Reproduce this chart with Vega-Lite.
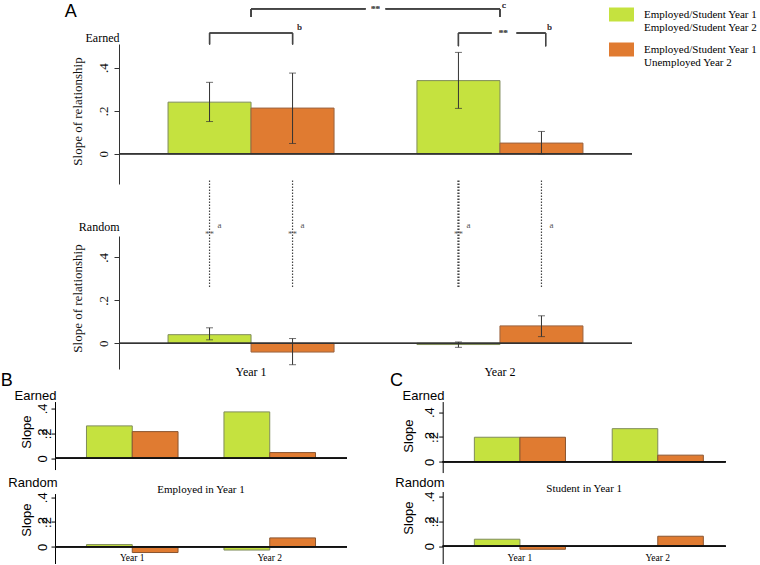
{
  "$schema": "https://vega.github.io/schema/vega-lite/v6.json",
  "padding": {"left": 0, "top": 1, "right": 0, "bottom": 0},
  "autosize": {"type": "pad"},
  "background": "white",
  "config": {
    "view": {"stroke": null},
    "axis": {"grid": false, "labelOverlap": false, "labelFlush": false, "labelBound": false},
    "font": "Liberation Serif"
  },
  "datasets": {
    "aEarned": [
      {"group": "Year 1", "series": "Employed/Student Year 1\nEmployed/Student Year 2", "value": 0.24, "lo": 0.15, "hi": 0.332},
      {"group": "Year 1", "series": "Employed/Student Year 1\nUnemployed Year 2", "value": 0.2125, "lo": 0.048, "hi": 0.375},
      {"group": "Year 2", "series": "Employed/Student Year 1\nEmployed/Student Year 2", "value": 0.34, "lo": 0.211, "hi": 0.471},
      {"group": "Year 2", "series": "Employed/Student Year 1\nUnemployed Year 2", "value": 0.05, "lo": 0.0, "hi": 0.104}
    ],
    "aRandom": [
      {"group": "Year 1", "series": "Employed/Student Year 1\nEmployed/Student Year 2", "value": 0.04, "lo": 0.016, "hi": 0.072},
      {"group": "Year 1", "series": "Employed/Student Year 1\nUnemployed Year 2", "value": -0.041, "lo": -0.1, "hi": 0.022},
      {"group": "Year 2", "series": "Employed/Student Year 1\nEmployed/Student Year 2", "value": -0.006, "lo": -0.019, "hi": 0.006},
      {"group": "Year 2", "series": "Employed/Student Year 1\nUnemployed Year 2", "value": 0.081, "lo": 0.031, "hi": 0.128}
    ],
    "bEarned": [
      {"group": "Year 1", "series": "Employed/Student Year 1\nEmployed/Student Year 2", "value": 0.26},
      {"group": "Year 1", "series": "Employed/Student Year 1\nUnemployed Year 2", "value": 0.214},
      {"group": "Year 2", "series": "Employed/Student Year 1\nEmployed/Student Year 2", "value": 0.372},
      {"group": "Year 2", "series": "Employed/Student Year 1\nUnemployed Year 2", "value": 0.046}
    ],
    "bRandom": [
      {"group": "Year 1", "series": "Employed/Student Year 1\nEmployed/Student Year 2", "value": 0.018},
      {"group": "Year 1", "series": "Employed/Student Year 1\nUnemployed Year 2", "value": -0.046},
      {"group": "Year 2", "series": "Employed/Student Year 1\nEmployed/Student Year 2", "value": -0.026},
      {"group": "Year 2", "series": "Employed/Student Year 1\nUnemployed Year 2", "value": 0.072}
    ],
    "cEarned": [
      {"group": "Year 1", "series": "Employed/Student Year 1\nEmployed/Student Year 2", "value": 0.198},
      {"group": "Year 1", "series": "Employed/Student Year 1\nUnemployed Year 2", "value": 0.198},
      {"group": "Year 2", "series": "Employed/Student Year 1\nEmployed/Student Year 2", "value": 0.267},
      {"group": "Year 2", "series": "Employed/Student Year 1\nUnemployed Year 2", "value": 0.054}
    ],
    "cRandom": [
      {"group": "Year 1", "series": "Employed/Student Year 1\nEmployed/Student Year 2", "value": 0.056},
      {"group": "Year 1", "series": "Employed/Student Year 1\nUnemployed Year 2", "value": -0.025},
      {"group": "Year 2", "series": "Employed/Student Year 1\nEmployed/Student Year 2", "value": 0.0},
      {"group": "Year 2", "series": "Employed/Student Year 1\nUnemployed Year 2", "value": 0.08}
    ]
  },
  "spacing": -12.45,
  "resolve": {"scale": {"color": "independent", "stroke": "independent", "xOffset": "independent"}},
  "vconcat": [
    {
      "hconcat": [
        {
          "width": 63.7, "height": 340,
          "data": {"values": []},
          "mark": "point",
          "encoding": {},
          "title": {"text": "A", "font": "Liberation Sans", "fontSize": 18, "fontWeight": "normal", "anchor": "start", "frame": "group", "dx": 9.7, "baseline": "alphabetic", "offset": 9, "color": "#000"}
        },
        {
          "vconcat": [
            {
              "width": 513, "height": 140,
              "data": {"name": "aEarned"},
              "layer": [
                {
                  "mark": {"type": "bar", "strokeWidth": 1},
                  "encoding": {
                    "x": {"field": "group", "type": "nominal", "scale": {"domain": ["Year 1", "Year 2"], "paddingInner": 0.333, "paddingOuter": 0.197},
                      "axis": {"orient": "top", "labels": false, "ticks": false, "domain": false, "title": "Earned", "titleX": 0, "titleY": -3, "titleAlign": "right", "titleAngle": 0, "titleBaseline": "alphabetic", "titleFont": "Liberation Serif", "titleFontSize": 12, "titleFontWeight": "normal", "titleColor": "#000"}},
                    "xOffset": {"field": "series", "type": "nominal", "scale": {"domain": ["Employed/Student Year 1\nEmployed/Student Year 2", "Employed/Student Year 1\nUnemployed Year 2"], "paddingInner": 0, "paddingOuter": 0}},
                    "y": {"field": "value", "type": "quantitative", "scale": {"domain": [-0.14, 0.51], "nice": false, "zero": false},
                      "axis": {"values": [0, 0.2, 0.4], "labelOverlap": false, "labelExpr": "datum.value == 0 ? '0' : slice(format(datum.value, '.1f'), 1)", "labelAngle": -90, "labelAlign": "center", "labelBaseline": "alphabetic", "labelPadding": 7, "tickSize": 5, "labelFont": "Liberation Serif", "labelFontSize": 13, "labelColor": "#111", "domainColor": "#333", "tickColor": "#333", "title": "Slope of relationship", "titleFont": "Liberation Serif", "titleFontSize": 13, "titleFontWeight": "normal", "titleColor": "#111", "titleAngle": -90, "titleAlign": "center", "titleBaseline": "alphabetic", "titleX": -38, "titleY": 67}},
                    "color": {"field": "series", "type": "nominal", "scale": {"domain": ["Employed/Student Year 1\nEmployed/Student Year 2", "Employed/Student Year 1\nUnemployed Year 2"], "range": ["#c5e23f", "#e07b31"]},
                      "legend": {"orient": "none", "legendX": 490, "legendY": -42, "title": null, "symbolType": "M-1,-0.56H1V0.56H-1Z", "symbolSize": 625, "symbolStrokeWidth": 0, "symbolOpacity": 1, "labelFont": "Liberation Serif", "labelFontSize": 11, "labelLineHeight": 12.7, "labelOffset": 10, "labelColor": "#000", "labelLimit": 300, "labelExpr": "split(datum.label, '\\n')", "rowPadding": 4, "padding": 0}},
                    "stroke": {"field": "series", "type": "nominal", "scale": {"domain": ["Employed/Student Year 1\nEmployed/Student Year 2", "Employed/Student Year 1\nUnemployed Year 2"], "range": ["#7f8c5a", "#9a6440"]}, "legend": null}
                  }
                },
                {
                  "mark": {"type": "rule", "color": "#333", "strokeWidth": 1},
                  "encoding": {"x": {"field": "group", "type": "nominal"}, "xOffset": {"field": "series", "type": "nominal"}, "y": {"field": "lo", "type": "quantitative"}, "y2": {"field": "hi"}}
                },
                {
                  "mark": {"type": "tick", "orient": "horizontal", "size": 7, "thickness": 1, "color": "#333"},
                  "encoding": {"x": {"field": "group", "type": "nominal"}, "xOffset": {"field": "series", "type": "nominal"}, "y": {"field": "hi", "type": "quantitative"}}
                },
                {
                  "mark": {"type": "tick", "orient": "horizontal", "size": 7, "thickness": 1, "color": "#333"},
                  "encoding": {"x": {"field": "group", "type": "nominal"}, "xOffset": {"field": "series", "type": "nominal"}, "y": {"field": "lo", "type": "quantitative"}}
                },
                {
                  "mark": {"type": "rule", "color": "#333", "strokeWidth": 1},
                  "encoding": {"y": {"datum": 0, "type": "quantitative"}}
                },
                {
                  "mark": {"type": "rule", "color": "#444", "strokeWidth": 1.2},
                  "encoding": {"x": {"datum": "Year 1", "type": "nominal", "bandPosition": 0.5}, "x2": {"datum": "Year 1", "bandPosition": 1.19}, "y": {"datum": 0.673, "type": "quantitative"}}
                },
                {
                  "mark": {"type": "rule", "color": "#444", "strokeWidth": 1.2},
                  "encoding": {"x": {"datum": "Year 1", "type": "nominal", "bandPosition": 1.31}, "x2": {"datum": "Year 2", "bandPosition": 0.5}, "y": {"datum": 0.673, "type": "quantitative"}}
                },
                {
                  "mark": {"type": "rule", "color": "#444", "strokeWidth": 1.2},
                  "encoding": {"x": {"datum": "Year 1", "type": "nominal", "bandPosition": 0.5}, "y": {"datum": 0.673, "type": "quantitative"}, "y2": {"datum": 0.635}}
                },
                {
                  "mark": {"type": "rule", "color": "#444", "strokeWidth": 1.2},
                  "encoding": {"x": {"datum": "Year 2", "type": "nominal", "bandPosition": 0.5}, "y": {"datum": 0.673, "type": "quantitative"}, "y2": {"datum": 0.635}}
                },
                {
                  "mark": {"type": "text", "text": "**", "font": "Liberation Serif", "fontSize": 9, "color": "#555", "baseline": "middle"},
                  "encoding": {"x": {"datum": "Year 1", "type": "nominal", "bandPosition": 1.25}, "y": {"datum": 0.673, "type": "quantitative"}}
                },
                {
                  "mark": {"type": "text", "text": "c", "font": "Liberation Serif", "fontSize": 9, "color": "#555", "baseline": "middle", "dx": 4},
                  "encoding": {"x": {"datum": "Year 2", "type": "nominal", "bandPosition": 0.5}, "y": {"datum": 0.69, "type": "quantitative"}}
                },
                {
                  "mark": {"type": "rule", "color": "#444", "strokeWidth": 1.2},
                  "encoding": {"x": {"datum": "Year 1", "type": "nominal", "bandPosition": 0.25}, "x2": {"datum": "Year 1", "bandPosition": 0.75}, "y": {"datum": 0.561, "type": "quantitative"}}
                },
                {
                  "mark": {"type": "rule", "color": "#444", "strokeWidth": 1.2},
                  "encoding": {"x": {"datum": "Year 1", "type": "nominal", "bandPosition": 0.25}, "y": {"datum": 0.561, "type": "quantitative"}, "y2": {"datum": 0.508}}
                },
                {
                  "mark": {"type": "rule", "color": "#444", "strokeWidth": 1.2},
                  "encoding": {"x": {"datum": "Year 1", "type": "nominal", "bandPosition": 0.75}, "y": {"datum": 0.561, "type": "quantitative"}, "y2": {"datum": 0.508}}
                },
                {
                  "mark": {"type": "text", "text": "b", "font": "Liberation Serif", "fontSize": 9, "color": "#555", "baseline": "middle", "dx": 7},
                  "encoding": {"x": {"datum": "Year 1", "type": "nominal", "bandPosition": 0.75}, "y": {"datum": 0.59, "type": "quantitative"}}
                },
                {
                  "mark": {"type": "rule", "color": "#444", "strokeWidth": 1.2},
                  "encoding": {"x": {"datum": "Year 2", "type": "nominal", "bandPosition": 0.25}, "x2": {"datum": "Year 2", "bandPosition": 0.45}, "y": {"datum": 0.561, "type": "quantitative"}}
                },
                {
                  "mark": {"type": "rule", "color": "#444", "strokeWidth": 1.2},
                  "encoding": {"x": {"datum": "Year 2", "type": "nominal", "bandPosition": 0.6}, "x2": {"datum": "Year 2", "bandPosition": 0.775}, "y": {"datum": 0.561, "type": "quantitative"}}
                },
                {
                  "mark": {"type": "rule", "color": "#444", "strokeWidth": 1.2},
                  "encoding": {"x": {"datum": "Year 2", "type": "nominal", "bandPosition": 0.25}, "y": {"datum": 0.561, "type": "quantitative"}, "y2": {"datum": 0.5}}
                },
                {
                  "mark": {"type": "rule", "color": "#444", "strokeWidth": 1.2},
                  "encoding": {"x": {"datum": "Year 2", "type": "nominal", "bandPosition": 0.775}, "y": {"datum": 0.561, "type": "quantitative"}, "y2": {"datum": 0.5}}
                },
                {
                  "mark": {"type": "text", "text": "**", "font": "Liberation Serif", "fontSize": 9, "color": "#555", "baseline": "middle"},
                  "encoding": {"x": {"datum": "Year 2", "type": "nominal", "bandPosition": 0.52}, "y": {"datum": 0.561, "type": "quantitative"}}
                },
                {
                  "mark": {"type": "text", "text": "b", "font": "Liberation Serif", "fontSize": 9, "color": "#555", "baseline": "middle", "dx": 4},
                  "encoding": {"x": {"datum": "Year 2", "type": "nominal", "bandPosition": 0.775}, "y": {"datum": 0.59, "type": "quantitative"}}
                }
              ]
            },
            {
              "width": 513, "height": 133,
              "data": {"name": "aRandom"},
              "layer": [
                {
                  "mark": {"type": "bar", "strokeWidth": 1},
                  "encoding": {
                    "x": {"field": "group", "type": "nominal", "scale": {"domain": ["Year 1", "Year 2"], "paddingInner": 0.333, "paddingOuter": 0.197},
                      "axis": {"orient": "bottom", "labels": true, "ticks": false, "domain": false, "labelAngle": 0, "labelFont": "Liberation Serif", "labelFontSize": 12, "labelColor": "#000", "labelPadding": 0, "labelBaseline": "top", "offset": -3, "title": "Random", "titleX": 0, "titleY": -136, "titleAlign": "right", "titleAngle": 0, "titleBaseline": "alphabetic", "titleFont": "Liberation Serif", "titleFontSize": 12, "titleFontWeight": "normal", "titleColor": "#000"}},
                    "xOffset": {"field": "series", "type": "nominal", "scale": {"domain": ["Employed/Student Year 1\nEmployed/Student Year 2", "Employed/Student Year 1\nUnemployed Year 2"], "paddingInner": 0, "paddingOuter": 0}},
                    "y": {"field": "value", "type": "quantitative", "scale": {"domain": [-0.12, 0.5], "nice": false, "zero": false},
                      "axis": {"values": [0, 0.2, 0.4], "labelOverlap": false, "labelExpr": "datum.value == 0 ? '0' : slice(format(datum.value, '.1f'), 1)", "labelAngle": -90, "labelAlign": "center", "labelBaseline": "alphabetic", "labelPadding": 7, "tickSize": 5, "labelFont": "Liberation Serif", "labelFontSize": 13, "labelColor": "#111", "domainColor": "#333", "tickColor": "#333", "title": "Slope of relationship", "titleFont": "Liberation Serif", "titleFontSize": 13, "titleFontWeight": "normal", "titleColor": "#111", "titleAngle": -90, "titleAlign": "center", "titleBaseline": "alphabetic", "titleX": -38, "titleY": 62}},
                    "color": {"field": "series", "type": "nominal", "scale": {"domain": ["Employed/Student Year 1\nEmployed/Student Year 2", "Employed/Student Year 1\nUnemployed Year 2"], "range": ["#c5e23f", "#e07b31"]}, "legend": null},
                    "stroke": {"field": "series", "type": "nominal", "scale": {"domain": ["Employed/Student Year 1\nEmployed/Student Year 2", "Employed/Student Year 1\nUnemployed Year 2"], "range": ["#7f8c5a", "#9a6440"]}, "legend": null}
                  }
                },
                {
                  "mark": {"type": "rule", "color": "#333", "strokeWidth": 1},
                  "encoding": {"x": {"field": "group", "type": "nominal"}, "xOffset": {"field": "series", "type": "nominal"}, "y": {"field": "lo", "type": "quantitative"}, "y2": {"field": "hi"}}
                },
                {
                  "mark": {"type": "tick", "orient": "horizontal", "size": 7, "thickness": 1, "color": "#333"},
                  "encoding": {"x": {"field": "group", "type": "nominal"}, "xOffset": {"field": "series", "type": "nominal"}, "y": {"field": "hi", "type": "quantitative"}}
                },
                {
                  "mark": {"type": "tick", "orient": "horizontal", "size": 7, "thickness": 1, "color": "#333"},
                  "encoding": {"x": {"field": "group", "type": "nominal"}, "xOffset": {"field": "series", "type": "nominal"}, "y": {"field": "lo", "type": "quantitative"}}
                },
                {
                  "mark": {"type": "rule", "color": "#333", "strokeWidth": 1},
                  "encoding": {"y": {"datum": 0, "type": "quantitative"}}
                },
                {
                  "mark": {"type": "rule", "color": "#444", "strokeDash": [1.5, 1.5]},
                  "encoding": {
                    "x": {"field": "group", "type": "nominal"}, "xOffset": {"field": "series", "type": "nominal"},
                    "y": {"datum": 0.262, "type": "quantitative"}, "y2": {"datum": 0.76},
                    "strokeWidth": {"condition": {"test": "datum.group == 'Year 2' && indexof(datum.series, 'Unemployed') < 0", "value": 2.2}, "value": 1.2}
                  }
                },
                {
                  "transform": [{"filter": "!(datum.group == 'Year 2' && indexof(datum.series, 'Unemployed') >= 0)"}],
                  "mark": {"type": "text", "text": "**", "font": "Liberation Serif", "fontSize": 9, "color": "#555", "baseline": "middle"},
                  "encoding": {"x": {"field": "group", "type": "nominal"}, "xOffset": {"field": "series", "type": "nominal"}, "y": {"datum": 0.51, "type": "quantitative"}}
                },
                {
                  "mark": {"type": "text", "text": "a", "font": "Liberation Serif", "fontSize": 9, "color": "#555", "baseline": "middle", "dx": 10},
                  "encoding": {"x": {"field": "group", "type": "nominal"}, "xOffset": {"field": "series", "type": "nominal"}, "y": {"datum": 0.55, "type": "quantitative"}}
                }
              ]
            }
          ],
          "spacing": 52,
          "bounds": "flush",
          "resolve": {"scale": {"color": "independent", "stroke": "independent", "xOffset": "independent"}}
        }
      ],
      "spacing": 0,
      "bounds": "flush",
      "resolve": {"scale": {"color": "independent", "stroke": "independent", "xOffset": "independent"}}
    },
    {
      "hconcat": [
        {
          "vconcat": [
            {
              "width": 292, "height": 68,
              "data": {"name": "bEarned"},
              "title": {"text": "B", "font": "Liberation Sans", "fontSize": 18, "fontWeight": "normal", "anchor": "start", "frame": "group", "dx": -54.3, "baseline": "alphabetic", "offset": -14.65, "color": "#000"},
              "resolve": {"axis": {"y": "independent"}},
              "layer": [
                {
                  "mark": {"type": "bar", "strokeWidth": 1},
                  "encoding": {
                    "x": {"field": "group", "type": "nominal", "scale": {"domain": ["Year 1", "Year 2"], "paddingInner": 0.334, "paddingOuter": 0.229},
                      "axis": {"orient": "top", "labels": false, "ticks": false, "domain": false, "title": "Earned", "titleX": 1, "titleY": -2.5, "titleAlign": "right", "titleAngle": 0, "titleBaseline": "alphabetic", "titleFont": "Liberation Sans", "titleFontSize": 13, "titleFontWeight": "normal", "titleColor": "#000"}},
                    "xOffset": {"field": "series", "type": "nominal", "scale": {"domain": ["Employed/Student Year 1\nEmployed/Student Year 2", "Employed/Student Year 1\nUnemployed Year 2"], "paddingInner": 0, "paddingOuter": 0}},
                    "y": {"field": "value", "type": "quantitative", "scale": {"domain": [-0.09, 0.455], "nice": false, "zero": false},
                      "axis": {"orient": "left", "values": [0, 0.2, 0.4], "labelOverlap": false, "labelExpr": "datum.value == 0 ? '0' : slice(format(datum.value, '.1f'), 1)", "labelAngle": -90, "labelAlign": "center", "labelBaseline": "alphabetic", "labelPadding": 5, "tickSize": 4, "labelFont": "Liberation Sans", "labelFontSize": 13, "labelColor": "#000", "domainColor": "#000", "tickColor": "#000", "title": "Slope", "titleFont": "Liberation Sans", "titleFontSize": 13, "titleFontWeight": "normal", "titleColor": "#000", "titleAngle": -90, "titleAlign": "center", "titleBaseline": "alphabetic", "titleX": -25, "titleY": 30}},
                    "color": {"field": "series", "type": "nominal", "scale": {"domain": ["Employed/Student Year 1\nEmployed/Student Year 2", "Employed/Student Year 1\nUnemployed Year 2"], "range": ["#c5e23f", "#e07b31"]}, "legend": null},
                    "stroke": {"field": "series", "type": "nominal", "scale": {"domain": ["Employed/Student Year 1\nEmployed/Student Year 2", "Employed/Student Year 1\nUnemployed Year 2"], "range": ["#7f8c5a", "#8a5530"]}, "legend": null}
                  }
                },
                {
                  "mark": {"type": "rule", "color": "#111", "strokeWidth": 1.5},
                  "encoding": {"y": {"datum": 0, "type": "quantitative",
                    "axis": {"orient": "left", "values": [0.2], "labelOverlap": false, "labelExpr": "'.2'", "labelAngle": -90, "labelAlign": "center", "labelBaseline": "alphabetic", "labelPadding": 5, "tickSize": 4, "ticks": false, "domain": false, "grid": false, "labelFont": "Liberation Sans", "labelFontSize": 13, "labelColor": "#000", "title": null}}}
                }
              ]
            },
            {
              "width": 292, "height": 70,
              "data": {"name": "bRandom"},
              "title": {"text": "Employed in Year 1", "font": "Liberation Serif", "fontSize": 11, "fontWeight": "normal", "anchor": "middle", "frame": "group", "baseline": "alphabetic", "offset": -27, "color": "#000"},
              "resolve": {"axis": {"y": "independent"}},
              "layer": [
                {
                  "mark": {"type": "bar", "strokeWidth": 1},
                  "encoding": {
                    "x": {"field": "group", "type": "nominal", "scale": {"domain": ["Year 1", "Year 2"], "paddingInner": 0.334, "paddingOuter": 0.229},
                      "axis": {"orient": "bottom", "labels": true, "ticks": false, "domain": false, "labelAngle": 0, "labelFont": "Liberation Serif", "labelFontSize": 9.5, "labelColor": "#000", "labelPadding": 0, "labelBaseline": "top", "offset": -11, "title": "Random", "titleX": 2, "titleY": -66, "titleAlign": "right", "titleAngle": 0, "titleBaseline": "alphabetic", "titleFont": "Liberation Sans", "titleFontSize": 13, "titleFontWeight": "normal", "titleColor": "#000"}},
                    "xOffset": {"field": "series", "type": "nominal", "scale": {"domain": ["Employed/Student Year 1\nEmployed/Student Year 2", "Employed/Student Year 1\nUnemployed Year 2"], "paddingInner": 0, "paddingOuter": 0}},
                    "y": {"field": "value", "type": "quantitative", "scale": {"domain": [-0.135, 0.43], "nice": false, "zero": false},
                      "axis": {"orient": "left", "values": [0, 0.2, 0.4], "labelOverlap": false, "labelExpr": "datum.value == 0 ? '0' : slice(format(datum.value, '.1f'), 1)", "labelAngle": -90, "labelAlign": "center", "labelBaseline": "alphabetic", "labelPadding": 5, "tickSize": 4, "labelFont": "Liberation Sans", "labelFontSize": 13, "labelColor": "#000", "domainColor": "#000", "tickColor": "#000", "title": "Slope", "titleFont": "Liberation Sans", "titleFontSize": 13, "titleFontWeight": "normal", "titleColor": "#000", "titleAngle": -90, "titleAlign": "center", "titleBaseline": "alphabetic", "titleX": -25, "titleY": 26}},
                    "color": {"field": "series", "type": "nominal", "scale": {"domain": ["Employed/Student Year 1\nEmployed/Student Year 2", "Employed/Student Year 1\nUnemployed Year 2"], "range": ["#c5e23f", "#e07b31"]}, "legend": null},
                    "stroke": {"field": "series", "type": "nominal", "scale": {"domain": ["Employed/Student Year 1\nEmployed/Student Year 2", "Employed/Student Year 1\nUnemployed Year 2"], "range": ["#7f8c5a", "#8a5530"]}, "legend": null}
                  }
                },
                {
                  "mark": {"type": "rule", "color": "#111", "strokeWidth": 1.5},
                  "encoding": {"y": {"datum": 0, "type": "quantitative",
                    "axis": {"orient": "left", "values": [0.2], "labelOverlap": false, "labelExpr": "'.2'", "labelAngle": -90, "labelAlign": "center", "labelBaseline": "alphabetic", "labelPadding": 5, "tickSize": 4, "ticks": false, "domain": false, "grid": false, "labelFont": "Liberation Sans", "labelFontSize": 13, "labelColor": "#000", "title": null}}}
                }
              ]
            }
          ],
          "spacing": 24,
          "bounds": "flush",
          "resolve": {"scale": {"color": "independent", "stroke": "independent", "xOffset": "independent"}}
        },
        {
          "vconcat": [
            {
              "width": 283, "height": 71,
              "data": {"name": "cEarned"},
              "title": {"text": "C", "font": "Liberation Sans", "fontSize": 18, "fontWeight": "normal", "anchor": "start", "frame": "group", "dx": -52.7, "baseline": "alphabetic", "offset": -14.65, "color": "#000"},
              "resolve": {"axis": {"y": "independent"}},
              "layer": [
                {
                  "mark": {"type": "bar", "strokeWidth": 1},
                  "encoding": {
                    "x": {"field": "group", "type": "nominal", "scale": {"domain": ["Year 1", "Year 2"], "paddingInner": 0.339, "paddingOuter": 0.196, "align": 0.586},
                      "axis": {"orient": "top", "labels": false, "ticks": false, "domain": false, "title": "Earned", "titleX": 1.3, "titleY": -2.5, "titleAlign": "right", "titleAngle": 0, "titleBaseline": "alphabetic", "titleFont": "Liberation Sans", "titleFontSize": 13, "titleFontWeight": "normal", "titleColor": "#000"}},
                    "xOffset": {"field": "series", "type": "nominal", "scale": {"domain": ["Employed/Student Year 1\nEmployed/Student Year 2", "Employed/Student Year 1\nUnemployed Year 2"], "paddingInner": 0, "paddingOuter": 0}},
                    "y": {"field": "value", "type": "quantitative", "scale": {"domain": [-0.086, 0.485], "nice": false, "zero": false},
                      "axis": {"orient": "left", "values": [0, 0.2, 0.4], "labelOverlap": false, "labelExpr": "datum.value == 0 ? '0' : slice(format(datum.value, '.1f'), 1)", "labelAngle": -90, "labelAlign": "center", "labelBaseline": "alphabetic", "labelPadding": 5, "tickSize": 4, "labelFont": "Liberation Sans", "labelFontSize": 13, "labelColor": "#000", "domainColor": "#000", "tickColor": "#000", "title": "Slope", "titleFont": "Liberation Sans", "titleFontSize": 13, "titleFontWeight": "normal", "titleColor": "#000", "titleAngle": -90, "titleAlign": "center", "titleBaseline": "alphabetic", "titleX": -30, "titleY": 34}},
                    "color": {"field": "series", "type": "nominal", "scale": {"domain": ["Employed/Student Year 1\nEmployed/Student Year 2", "Employed/Student Year 1\nUnemployed Year 2"], "range": ["#c5e23f", "#e07b31"]}, "legend": null},
                    "stroke": {"field": "series", "type": "nominal", "scale": {"domain": ["Employed/Student Year 1\nEmployed/Student Year 2", "Employed/Student Year 1\nUnemployed Year 2"], "range": ["#7f8c5a", "#8a5530"]}, "legend": null}
                  }
                },
                {
                  "mark": {"type": "rule", "color": "#111", "strokeWidth": 1.5},
                  "encoding": {"y": {"datum": 0, "type": "quantitative",
                    "axis": {"orient": "left", "values": [0.2], "labelOverlap": false, "labelExpr": "'.2'", "labelAngle": -90, "labelAlign": "center", "labelBaseline": "alphabetic", "labelPadding": 5, "tickSize": 4, "ticks": false, "domain": false, "grid": false, "labelFont": "Liberation Sans", "labelFontSize": 13, "labelColor": "#000", "title": null}}}
                }
              ]
            },
            {
              "width": 283, "height": 72,
              "data": {"name": "cRandom"},
              "title": {"text": "Student in Year 1", "font": "Liberation Serif", "fontSize": 11, "fontWeight": "normal", "anchor": "middle", "frame": "group", "baseline": "alphabetic", "offset": -27, "color": "#000"},
              "resolve": {"axis": {"y": "independent"}},
              "layer": [
                {
                  "mark": {"type": "bar", "strokeWidth": 1},
                  "encoding": {
                    "x": {"field": "group", "type": "nominal", "scale": {"domain": ["Year 1", "Year 2"], "paddingInner": 0.339, "paddingOuter": 0.196, "align": 0.586},
                      "axis": {"orient": "bottom", "labels": true, "ticks": false, "domain": false, "labelAngle": 0, "labelFont": "Liberation Serif", "labelFontSize": 9.5, "labelColor": "#000", "labelPadding": 0, "labelBaseline": "top", "offset": -11, "title": "Random", "titleX": 1.3, "titleY": -66.35, "titleAlign": "right", "titleAngle": 0, "titleBaseline": "alphabetic", "titleFont": "Liberation Sans", "titleFontSize": 13, "titleFontWeight": "normal", "titleColor": "#000"}},
                    "xOffset": {"field": "series", "type": "nominal", "scale": {"domain": ["Employed/Student Year 1\nEmployed/Student Year 2", "Employed/Student Year 1\nUnemployed Year 2"], "paddingInner": 0, "paddingOuter": 0}},
                    "y": {"field": "value", "type": "quantitative", "scale": {"domain": [-0.14, 0.44], "nice": false, "zero": false},
                      "axis": {"orient": "left", "values": [0, 0.2, 0.4], "labelOverlap": false, "labelExpr": "datum.value == 0 ? '0' : slice(format(datum.value, '.1f'), 1)", "labelAngle": -90, "labelAlign": "center", "labelBaseline": "alphabetic", "labelPadding": 5, "tickSize": 4, "labelFont": "Liberation Sans", "labelFontSize": 13, "labelColor": "#000", "domainColor": "#000", "tickColor": "#000", "title": "Slope", "titleFont": "Liberation Sans", "titleFontSize": 13, "titleFontWeight": "normal", "titleColor": "#000", "titleAngle": -90, "titleAlign": "center", "titleBaseline": "alphabetic", "titleX": -30, "titleY": 26}},
                    "color": {"field": "series", "type": "nominal", "scale": {"domain": ["Employed/Student Year 1\nEmployed/Student Year 2", "Employed/Student Year 1\nUnemployed Year 2"], "range": ["#c5e23f", "#e07b31"]}, "legend": null},
                    "stroke": {"field": "series", "type": "nominal", "scale": {"domain": ["Employed/Student Year 1\nEmployed/Student Year 2", "Employed/Student Year 1\nUnemployed Year 2"], "range": ["#7f8c5a", "#8a5530"]}, "legend": null}
                  }
                },
                {
                  "mark": {"type": "rule", "color": "#111", "strokeWidth": 1.5},
                  "encoding": {"y": {"datum": 0, "type": "quantitative",
                    "axis": {"orient": "left", "values": [0.2], "labelOverlap": false, "labelExpr": "'.2'", "labelAngle": -90, "labelAlign": "center", "labelBaseline": "alphabetic", "labelPadding": 5, "tickSize": 4, "ticks": false, "domain": false, "grid": false, "labelFont": "Liberation Sans", "labelFontSize": 13, "labelColor": "#000", "title": null}}}
                }
              ]
            }
          ],
          "spacing": 19,
          "bounds": "flush",
          "resolve": {"scale": {"color": "independent", "stroke": "independent", "xOffset": "independent"}}
        }
      ],
      "spacing": 41.7,
      "resolve": {"scale": {"color": "independent", "stroke": "independent", "xOffset": "independent"}}
    }
  ]
}
